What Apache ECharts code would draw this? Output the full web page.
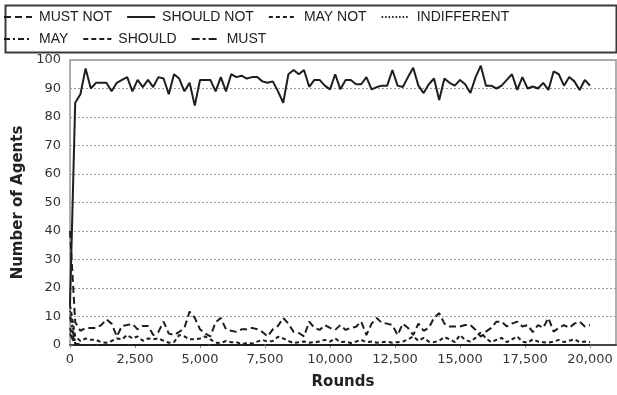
<!DOCTYPE html>
<html><head><meta charset="utf-8">
<script src="https://cdn.jsdelivr.net/npm/echarts@6/dist/echarts.min.js"></script>
<style>html,body{margin:0;padding:0;background:#fff}#c{width:617px;height:395px}</style>
</head><body><div id="c"></div>
<script>
const rounds = [0,200,400,600,800,1000,1200,1400,1600,1800,2000,2200,2400,2600,2800,3000,3200,3400,3600,3800,4000,4200,4400,4600,4800,5000,5200,5400,5600,5800,6000,6200,6400,6600,6800,7000,7200,7400,7600,7800,8000,8200,8400,8600,8800,9000,9200,9400,9600,9800,10000,10200,10400,10600,10800,11000,11200,11400,11600,11800,12000,12200,12400,12600,12800,13000,13200,13400,13600,13800,14000,14200,14400,14600,14800,15000,15200,15400,15600,15800,16000,16200,16400,16600,16800,17000,17200,17400,17600,17800,18000,18200,18400,18600,18800,19000,19200,19400,19600,19800,20000];
const shouldNot = [14,85,88,97,90,92,92,92,89,92,93,94,89,93,90.5,93,90.5,94,93.5,88,95,93.5,89,92,84,93,93,93,89,94,89,95,94,94.5,93.5,94,94,92.5,92,92.5,89,85,95,96.5,95,96.5,90.6,93,93,91,89.7,95,89.7,93,93,91.5,91.5,94,89.7,90.5,91,91,96.5,91,90.5,94,97.3,91,88.4,91.5,93.5,86,93.5,92,91,93,91.5,88.4,94,98,91,91,90,91,93,95,89.5,94,90,90.7,90,92,89.5,96,95,91,94,92.5,89.5,93,91];
const mustNot = [40,8,5,6,6,6,7,9,7.5,3,6.7,7,7.4,5.5,6.7,6.7,3.5,4.6,8.2,4,3.5,4.6,6,11.7,9.5,5.5,4,3,8,9.5,5.5,5,4.6,5.5,5.5,6,5.5,4.6,3,5.5,6.7,9.5,7.5,4.6,4.2,3,8.2,6,5.3,7,6,5.3,7,5.3,6,6.4,8.2,3.5,7.5,9.5,7.7,7.5,7,3.5,7.5,6,3.5,7.5,5,6,9.5,11.2,7.5,6.5,6.5,6.5,7,7,5.3,2.9,4.7,6,8.2,8.2,6.5,7.5,8.2,6.5,7,4.5,7,6,9.5,4.7,6,7,6,7.5,8.2,6.5,7];
const mayNot = [14,3,1.4,2.3,1.8,1.8,1,0.8,1.4,2.3,2,3.5,2.3,3,1.5,2.3,2,2.3,1.5,0.8,1,3.5,3,2,2,2.3,3,2,0.8,0.7,1.4,1,1,0.3,0.7,0.5,1.2,1.8,1.2,1.4,2.9,2.3,1.4,0.7,1,1.2,0.8,1,1.2,1.8,1.2,2.3,1,1.2,0.7,1.2,1.8,1,1.2,0.8,1,1.2,0.8,1,1.2,2,3,1.5,2.5,1.2,1,1.5,2.8,2,1,3.5,1.8,1.2,2.5,4.5,2.3,1,1.8,2.5,1,2,3,1.2,0.8,2,1.2,1,0.8,1.2,1.8,1,1.5,2,1,1.2,1];
const indifferent = [12,0.5,0,0,0,0,0,0,0,0,0,0,0,0,0,0,0,0,0,0,0,0,0,0,0,0,0,0,0,0,0,0,0,0,0,0,0,0,0,0,0,0,0,0,0,0,0,0,0,0,0,0,0,0,0,0,0,0,0,0,0,0,0,0,0,0,0,0,0,0,0,0,0,0,0,0,0,0,0,0,0,0,0,0,0,0,0,0,0,0,0,0,0,0,0,0,0,0,0,0,0];
const may = [10,0.5,0,0,0,0,0,0,0,0,0,0,0,0,0,0,0,0,0,0,0,0,0,0,0,0,0,0,0,0,0,0,0,0,0,0,0,0,0,0,0,0,0,0,0,0,0,0,0,0,0,0,0,0,0,0,0,0,0,0,0,0,0,0,0,0,0,0,0,0,0,0,0,0,0,0,0,0,0,0,0,0,0,0,0,0,0,0,0,0,0,0,0,0,0,0,0,0,0,0,0];
const should = [6,0.5,0,0,0,0,0,0,0,0,0,0,0,0,0,0,0,0,0,0,0,0,0,0,0,0,0,0,0,0,0,0,0,0,0,0,0,0,0,0,0,0,0,0,0,0,0,0,0,0,0,0,0,0,0,0,0,0,0,0,0,0,0,0,0,0,0,0,0,0,0,0,0,0,0,0,0,0,0,0,0,0,0,0,0,0,0,0,0,0,0,0,0,0,0,0,0,0,0,0,0];
const must = [4,0,0,0,0,0,0,0,0,0,0,0,0,0,0,0,0,0,0,0,0,0,0,0,0,0,0,0,0,0,0,0,0,0,0,0,0,0,0,0,0,0,0,0,0,0,0,0,0,0,0,0,0,0,0,0,0,0,0,0,0,0,0,0,0,0,0,0,0,0,0,0,0,0,0,0,0,0,0,0,0,0,0,0,0,0,0,0,0,0,0,0,0,0,0,0,0,0,0,0,0];
const xTicks = [0,2500,5000,7500,10000,12500,15000,17500,20000];
const yTicks = [0,10,20,30,40,50,60,70,80,90,100];

const seriesDefs = [
  {name:'MUST NOT', data:mustNot, type:[7,4]},
  {name:'SHOULD NOT', data:shouldNot, type:'solid'},
  {name:'MAY NOT', data:mayNot, type:[4,3]},
  {name:'INDIFFERENT', data:indifferent, type:[1.5,2]},
  {name:'MAY', data:may, type:[6,3,2,3]},
  {name:'SHOULD', data:should, type:[5,3]},
  {name:'MUST', data:must, type:[8,3,3,3]}
];

const chart = echarts.init(document.getElementById('c'), null, {renderer:'canvas'});
const font = 'Liberation Sans, Arial, sans-serif';
const legendCommon = {
  left: 3, padding: 0, itemWidth: 28, itemHeight: 12, itemGap: 14,
  itemStyle: {color: 'rgba(0,0,0,0)', borderWidth: 0},
  textStyle: {fontFamily: font, fontSize: 14, color: '#222', padding:[0,0,0,2]},
  selectedMode: false
};
chart.setOption({
  animation: false,
  backgroundColor: '#fff',
  graphic: [{type:'rect', left:3, top:3, shape:{width:611, height:47}, style:{fill:'none', stroke:'#3a3a3a', lineWidth:2}}],
  legend: [
    Object.assign({top: 10, data: ['MUST NOT','SHOULD NOT','MAY NOT','INDIFFERENT']}, legendCommon),
    Object.assign({top: 32, data: ['MAY','SHOULD','MUST']}, legendCommon)
  ],
  grid: {left: 70, right: 1, top: 60, bottom: 49, show: true, borderColor: '#b0b0b0', borderWidth: 2},
  xAxis: {
    type: 'value', min: 0, max: 21000, interval: 2500,
    name: 'Rounds', nameLocation: 'middle', nameGap: 30,
    nameTextStyle: {fontFamily: 'DejaVu Sans', fontWeight: 'bold', fontSize: 15, color: '#222'},
    axisLine: {show: true, lineStyle: {color: '#444', width: 2}},
    axisTick: {show: true, length: 3, lineStyle: {color: '#888'}},
    axisLabel: {fontFamily: 'DejaVu Sans', fontSize: 13, color: '#333', margin: 8, showMaxLabel: false,
      formatter: v => xTicks.indexOf(v) >= 0 ? v.toLocaleString('en-US') : ''},
    splitLine: {show: false}
  },
  yAxis: {
    type: 'value', min: 0, max: 100, interval: 10,
    name: 'Number of Agents', nameLocation: 'middle', nameGap: 35,
    nameTextStyle: {fontFamily: 'DejaVu Sans', fontWeight: 'bold', fontSize: 15, color: '#222'},
    axisLine: {show: true, lineStyle: {color: '#aaa', width: 1}},
    axisTick: {show: false},
    axisLabel: {fontFamily: 'DejaVu Sans', fontSize: 13, color: '#333', margin: 9,
      formatter: v => yTicks.indexOf(v) >= 0 ? String(v) : ''},
    splitLine: {show: true, lineStyle: {color: '#999', type: [2,2], width: 1}}
  },
  series: seriesDefs.map(s => ({
    name: s.name, type: 'line', symbol: 'none', showSymbol: false,
    data: rounds.map((r, i) => [r, s.data[i]]),
    lineStyle: {color: '#1e1e1e', width: 2, type: s.type},
    itemStyle: {color: '#1e1e1e'},
    z: s.name === 'SHOULD NOT' ? 3 : 2
  }))
});
</script></body></html>
